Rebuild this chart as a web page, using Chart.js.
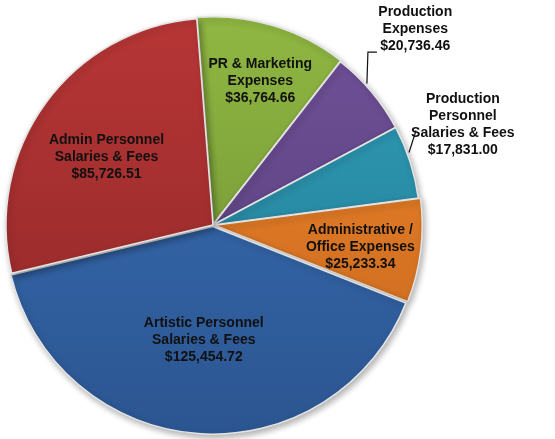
<!DOCTYPE html>
<html>
<head>
<meta charset="utf-8">
<script src="https://cdn.jsdelivr.net/npm/chart.js@4"></script>
<style>
  html, body { margin: 0; padding: 0; background: #fff; }
  #wrap { width: 555px; height: 439px; }
</style>
</head>
<body>
<div id="wrap"><canvas id="myChart" width="555" height="439"></canvas></div>
<script>
let labels = [
  ['PR & Marketing', 'Expenses'],
  ['Production', 'Expenses'],
  ['Production', 'Personnel', 'Salaries & Fees'],
  ['Administrative /', 'Office Expenses'],
  ['Artistic Personnel', 'Salaries & Fees'],
  ['Admin Personnel', 'Salaries & Fees']
];
let amounts = [36764.66, 20736.46, 17831.00, 25233.34, 125454.72, 85726.51];
let colorTop = ['#90b842', '#70519a', '#2f9fbb', '#f0862a', '#3a70b8', '#b83636'];
let colorBottom = ['#6b8a32', '#553c74', '#23768d', '#c4661e', '#2b5590', '#8c2626'];
let offsets = [4, 0, 0, 6, 6, 0];

// label placement: radius factor + angle shift (deg) from slice middle
let labelPos = [
  { r: 0.73, da: 1.5 },
  { r: 1.36, da: -4, leader: 'elbow' },
  { r: 1.30, da: -4, leader: 'straight' },
  { r: 0.72, da: 1.5 },
  { r: 0.56, da: 0.5 },
  { r: 0.61, da: -3.5 }
];

function money(v) {
  return '$' + v.toLocaleString('en-US', { minimumFractionDigits: 2, maximumFractionDigits: 2 });
}

let sliceLabels = {
  id: 'sliceLabels',
  afterDatasetsDraw(chart) {
    let ctx = chart.ctx;
    let arcs = chart.getDatasetMeta(0).data;
    ctx.save();
    ctx.font = 'bold 14px "Liberation Sans", Arial, sans-serif';
    ctx.fillStyle = '#111';
    ctx.textAlign = 'center';
    ctx.textBaseline = 'middle';
    arcs.forEach((arc, i) => {
      let p = labelPos[i];
      let mid = (arc.startAngle + arc.endAngle) / 2 + p.da * Math.PI / 180;
      let cx = arc.x, cy = arc.y, R = arc.outerRadius;
      let x = cx + Math.cos(mid) * R * p.r;
      let y = cy + Math.sin(mid) * R * p.r;
      let lines = labels[i].concat([money(amounts[i])]);
      let lh = 17;
      let y0 = y - (lines.length - 1) * lh / 2;
      lines.forEach((t, k) => ctx.fillText(t, x, y0 + k * lh));

      if (p.leader) {
        let a = (arc.startAngle + arc.endAngle) / 2 - 2.5 * Math.PI / 180;
        let ex = cx + Math.cos(a) * (R + 2);
        let ey = cy + Math.sin(a) * (R + 2);
        ctx.strokeStyle = '#111';
        ctx.lineWidth = 1.2;
        ctx.beginPath();
        ctx.moveTo(ex, ey);
        if (p.leader === 'elbow') {
          let topY = y0 + 2 * lh + 6;
          ctx.lineTo(ex + 1, topY);
          ctx.lineTo(ex + 10, topY);
        } else {
          ctx.lineTo(ex + 7, ey - 22);
        }
        ctx.stroke();
      }
    });
    ctx.restore();
  }
};

let shadow = {
  id: 'shadow',
  beforeDatasetsDraw(chart) {
    let ctx = chart.ctx;
    ctx.save();
    ctx.shadowColor = 'rgba(0,0,0,0.3)';
    ctx.shadowBlur = 6;
    ctx.shadowOffsetX = 2;
    ctx.shadowOffsetY = 3;
  },
  afterDatasetsDraw(chart) {
    chart.ctx.restore();
  }
};

function gradientFor(context) {
  let chart = context.chart;
  let area = chart.chartArea;
  if (!area) return colorTop[context.dataIndex];
  let g = chart.ctx.createLinearGradient(0, area.top, 0, area.bottom);
  g.addColorStop(0, colorTop[context.dataIndex]);
  g.addColorStop(1, colorBottom[context.dataIndex]);
  return g;
}

let ctx = document.getElementById('myChart').getContext('2d');
let myChart = new Chart(ctx, {
  type: 'pie',
  data: {
    labels: labels.map(l => l.join(' ')),
    datasets: [{
      data: amounts,
      backgroundColor: gradientFor,
      borderColor: '#e4e4e4',
      borderWidth: 1.5,
      offset: offsets
    }]
  },
  options: {
    responsive: false,
    animation: false,
    rotation: -4.5,
    radius: 207,
    layout: { padding: { left: 0, right: 129, top: 11, bottom: 0 } },
    plugins: {
      legend: { display: false },
      tooltip: { enabled: false }
    }
  },
  plugins: [shadow, sliceLabels]
});
</script>
</body>
</html>
